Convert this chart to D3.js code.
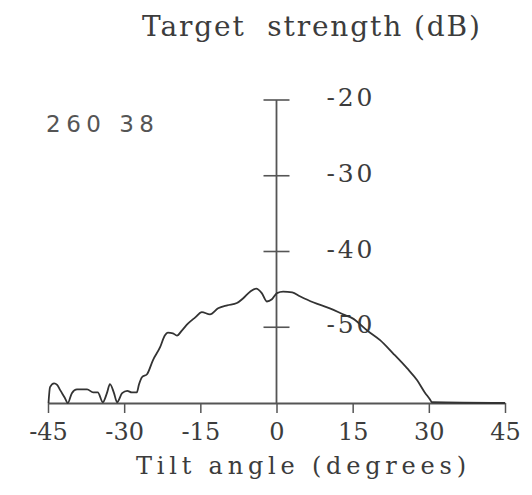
<!DOCTYPE html>
<html>
<head>
<meta charset="utf-8">
<script src="https://cdn.jsdelivr.net/npm/d3@7"></script>
<style>
  html, body { margin: 0; padding: 0; background: #fff; }
  svg { display: block; }
</style>
</head>
<body>
<svg id="chart" width="532" height="495"></svg>
<script>
// ---- data ----
const tiltAngle = [-44.9, -44.6, -43.8, -43.2, -42.6, -41.7, -41.1, -40.3, -39.3, -37.3,
  -36.1, -35.2, -34.2, -33.4, -32.8, -32.0, -31.4, -30.4, -29.4, -28.5,
  -27.5, -27.1, -26.5, -25.5, -24.3, -22.9, -22.0, -21.4, -20.4, -19.6,
  -18.6, -17.4, -16.0, -14.7, -13.1, -11.5, -9.7, -7.8, -6.6, -5.2,
  -4.0, -2.9, -1.9, -0.9, 0.1, 1.3, 3.1, 4.6, 7.2, 10.5,
  13.5, 14.9, 17.8, 20.4, 22.9, 25.7, 27.7, 29.2, 30.2, 30.6, 45];
const targetStrength = [-60.0, -57.9, -57.4, -57.6, -58.3, -59.3, -60.0, -58.7, -58.2, -58.2,
  -58.6, -58.6, -59.9, -58.7, -57.5, -58.7, -59.9, -58.7, -58.4, -58.6,
  -58.6, -57.6, -56.6, -56.2, -54.3, -52.6, -51.1, -50.7, -50.8, -51.1,
  -50.4, -49.5, -48.7, -48.0, -48.3, -47.5, -47.1, -46.8, -46.2, -45.3,
  -44.9, -45.5, -46.6, -46.3, -45.5, -45.3, -45.4, -45.9, -46.7, -47.5,
  -48.4, -48.8, -50.4, -51.7, -53.4, -55.4, -57.0, -58.6, -59.5, -59.9, -60.0];
const xTicks = [-45, -30, -15, 0, 15, 30, 45];
const yTicks = [-20, -30, -40, -50];
const yTickLabels = ["-20", "-30", "-40", "-50"];
const yTitle = "Target  strength (dB)";
const xTitle = "Tilt angle (degrees)";
const noteText = "260 38";

// ---- drawing ----
const svg = d3.select("#chart");
const ink = "#3c3c3c";
const fontFam = "'DejaVu Serif', 'Liberation Serif', serif";

const x = d3.scaleLinear().domain([-45, 45]).range([48, 505]);
const y = d3.scaleLinear().domain([-60, -20]).range([403, 100]);

// x axis baseline + downward ticks
const xAxis = d3.axisBottom(x)
  .tickValues(xTicks)
  .tickSize(10)
  .tickSizeOuter(0)
  .tickFormat(d => String(d));
const gx = svg.append("g")
  .attr("transform", `translate(0,${y(-60)})`)
  .call(xAxis);
gx.select(".domain").attr("stroke", "#555").attr("stroke-width", 1.8);
gx.selectAll(".tick line").attr("stroke", "#555").attr("stroke-width", 1.5);
gx.selectAll(".tick text")
  .attr("y", 37)
  .attr("dy", 0)
  .attr("fill", ink)
  .style("font-family", fontFam)
  .style("font-size", "24px");

// vertical axis at tilt 0, with cross ticks
const gy = svg.append("g").attr("transform", `translate(${x(0)},0)`);
gy.append("line")
  .attr("x1", 0).attr("x2", 0)
  .attr("y1", y(-20)).attr("y2", y(-60))
  .attr("stroke", "#555").attr("stroke-width", 1.8);
gy.selectAll("line.cross")
  .data(yTicks)
  .join("line")
  .attr("class", "cross")
  .attr("x1", -13).attr("x2", 13)
  .attr("y1", d => y(d)).attr("y2", d => y(d))
  .attr("stroke", "#555").attr("stroke-width", 1.6);
gy.selectAll("text.ylab")
  .data(yTicks)
  .join("text")
  .attr("class", "ylab")
  .attr("x", 50)
  .attr("y", d => y(d) + 6)
  .attr("textLength", 46).attr("lengthAdjust", "spacing")
  .attr("fill", ink)
  .style("font-family", fontFam)
  .style("font-size", "25px")
  .text((d, i) => yTickLabels[i]);

// curve
const pts = tiltAngle.map((a, i) => [a, targetStrength[i]]);
const line = d3.line()
  .x(d => x(d[0]))
  .y(d => y(d[1]))
  .curve(d3.curveMonotoneX);
svg.append("path")
  .datum(pts)
  .attr("d", line)
  .attr("fill", "none")
  .attr("stroke", "#333")
  .attr("stroke-width", 1.8)
  .attr("stroke-linejoin", "round");

// titles
svg.append("text")
  .attr("x", 142).attr("y", 36)
  .attr("textLength", 338).attr("lengthAdjust", "spacing")
  .attr("fill", ink)
  .attr("xml:space", "preserve")
  .style("white-space", "pre")
  .style("font-family", fontFam)
  .style("font-size", "28px")
  .text(yTitle);

svg.append("text")
  .attr("x", 136).attr("y", 474)
  .attr("textLength", 330).attr("lengthAdjust", "spacing")
  .attr("fill", ink)
  .style("font-family", fontFam)
  .style("font-size", "24px")
  .text(xTitle);

// annotation
svg.append("text")
  .attr("x", 46).attr("y", 132)
  .attr("textLength", 108).attr("lengthAdjust", "spacing")
  .attr("fill", "#555")
  .style("font-family", "'DejaVu Sans', sans-serif")
  .style("font-size", "23px")
  .text(noteText);
</script>
</body>
</html>
